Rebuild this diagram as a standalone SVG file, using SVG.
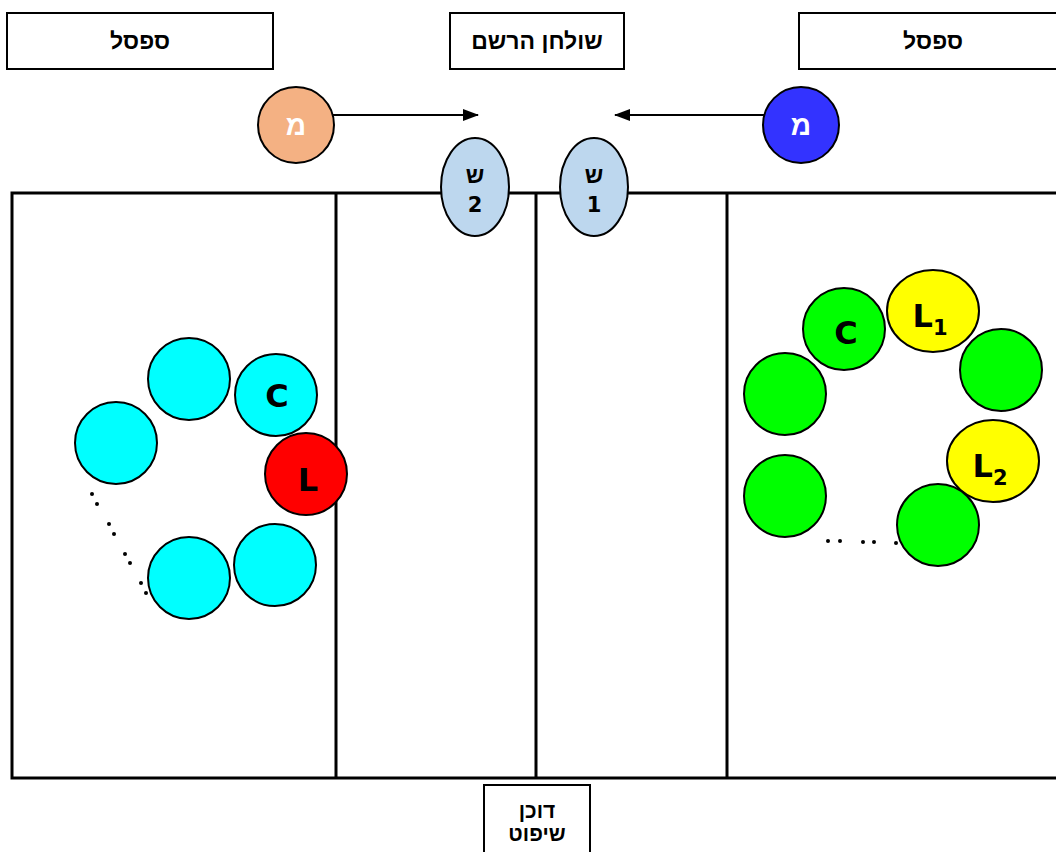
<svg xmlns="http://www.w3.org/2000/svg" width="1056" height="852" viewBox="0 0 1056 852">
<style>
.box{fill:#fff;stroke:#000;stroke-width:2}
.lbl{font-family:"Liberation Sans","DejaVu Sans",sans-serif;font-weight:bold;font-size:23px;fill:#000;text-anchor:middle}
.nl{font-family:"DejaVu Sans",sans-serif;font-weight:bold;font-size:21px;fill:#000;text-anchor:middle}
.big{font-family:"DejaVu Sans",sans-serif;font-weight:bold;font-size:32px;fill:#000;text-anchor:middle}
.sub{font-size:21px}
.ball{stroke:#000;stroke-width:2}
.cyan{fill:#00FFFF}
.green{fill:#00FF00}
.yellow{fill:#FFFF00}
.wall{fill:none;stroke:#000;stroke-width:3}
.dot{fill:#000}
</style>
<defs>
<marker id="ah" markerWidth="16" markerHeight="12" refX="15" refY="6" orient="auto" markerUnits="userSpaceOnUse">
<path d="M0,0 L16,6 L0,12 Z" fill="#000"/>
</marker>
</defs>

<g id="court">
<rect class="wall" x="12" y="193" width="1050" height="585"/>
<line class="wall" x1="336" y1="193" x2="336" y2="778"/>
<line class="wall" x1="536" y1="193" x2="536" y2="778"/>
<line class="wall" x1="727" y1="193" x2="727" y2="778"/>
</g>

<g id="bench-left"><rect class="box" x="7" y="13" width="266" height="56"/><text class="lbl" x="140" y="49">ספסל</text></g>
<g id="scorer-table"><rect class="box" x="450" y="13" width="174" height="56"/><text class="lbl" x="537" y="49">שולחן הרשם</text></g>
<g id="bench-right"><rect class="box" x="799" y="13" width="270" height="56"/><text class="lbl" x="933" y="49">ספסל</text></g>
<g id="referee-stand"><rect class="box" x="484" y="785" width="106" height="80"/><text class="lbl" x="537" y="818" style="font-size:21px">דוכן</text><text class="lbl" x="537" y="841" style="font-size:21px">שיפוט</text></g>

<g id="connectors">
<line x1="325" y1="115" x2="478" y2="115" stroke="#000" stroke-width="2" marker-end="url(#ah)"/>
<line x1="766" y1="115" x2="615" y2="115" stroke="#000" stroke-width="2" marker-end="url(#ah)"/>
</g>

<g id="coach-left"><circle class="ball" cx="296" cy="125" r="38" fill="#F4B183"/><text class="lbl" x="296" y="135" style="fill:#fff;font-size:28px">מ</text></g>
<g id="coach-right"><circle class="ball" cx="801" cy="125" r="38" fill="#3333FF"/><text class="lbl" x="801" y="135" style="fill:#fff;font-size:28px">מ</text></g>

<g id="sub-2"><ellipse class="ball" cx="475" cy="187" rx="34" ry="49" fill="#BDD7EE"/><text class="lbl" x="475" y="183">ש</text><text class="nl" x="475" y="212">2</text></g>
<g id="sub-1"><ellipse class="ball" cx="594" cy="187" rx="34" ry="49" fill="#BDD7EE"/><text class="lbl" x="594" y="183">ש</text><text class="nl" x="594" y="212">1</text></g>

<g id="left-team">
<circle class="ball cyan" cx="189" cy="379" r="41"/>
<circle class="ball cyan" cx="276" cy="395" r="41"/>
<text class="big" x="277" y="407">C</text>
<circle class="ball cyan" cx="116" cy="443" r="41"/>
<circle class="ball" cx="306" cy="474" r="41" fill="#FF0000"/>
<text class="big" x="308" y="491">L</text>
<circle class="ball cyan" cx="275" cy="565" r="41"/>
<circle class="ball cyan" cx="189" cy="578" r="41"/>
<g class="dot">
<circle cx="92" cy="494" r="2"/><circle cx="97" cy="504" r="2"/>
<circle cx="109" cy="524" r="2"/><circle cx="114" cy="534" r="2"/>
<circle cx="125" cy="554" r="2"/><circle cx="130" cy="563" r="2"/>
<circle cx="141" cy="583" r="2"/><circle cx="146" cy="593" r="2"/>
</g>
</g>

<g id="right-team">
<circle class="ball green" cx="844" cy="329" r="41"/>
<text class="big" x="846" y="344">C</text>
<ellipse class="ball yellow" cx="933" cy="311" rx="46" ry="41"/>
<text class="big" x="930" y="327">L<tspan class="sub" dy="8">1</tspan></text>
<circle class="ball green" cx="1001" cy="370" r="41"/>
<circle class="ball green" cx="785" cy="394" r="41"/>
<ellipse class="ball yellow" cx="993" cy="461" rx="46" ry="41"/>
<text class="big" x="990" y="477">L<tspan class="sub" dy="8">2</tspan></text>
<circle class="ball green" cx="785" cy="496" r="41"/>
<circle class="ball green" cx="938" cy="525" r="41"/>
<g class="dot">
<circle cx="828" cy="541" r="2"/><circle cx="840" cy="541" r="2"/>
<circle cx="863" cy="542" r="2"/><circle cx="874" cy="542" r="2"/>
<circle cx="896" cy="543" r="2"/>
</g>
</g>
</svg>
